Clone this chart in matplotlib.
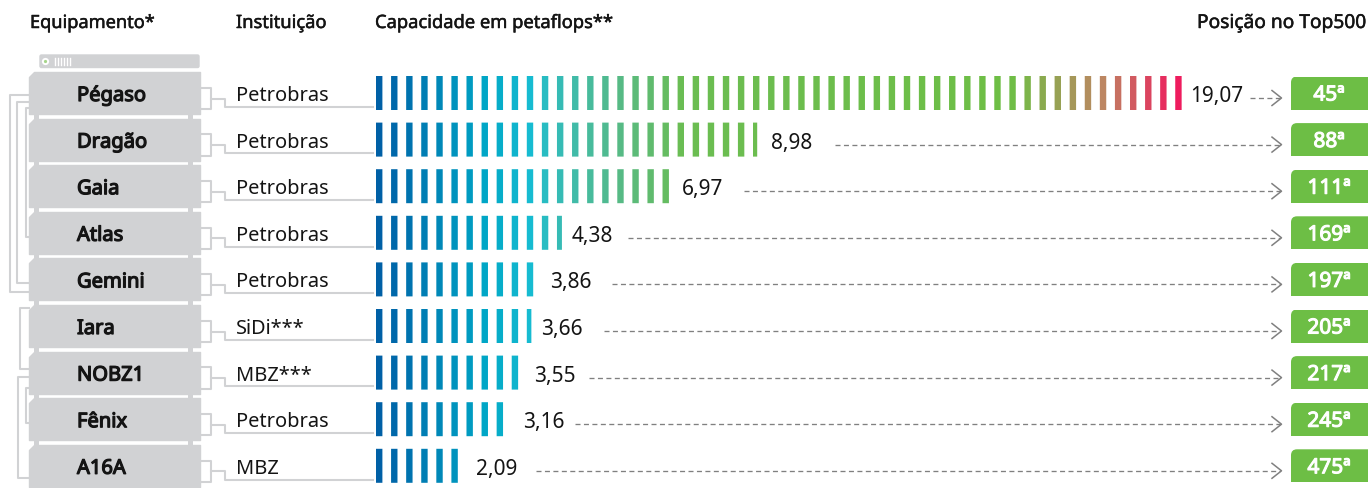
import matplotlib
matplotlib.use("Agg")
import matplotlib.pyplot as plt
from matplotlib.colors import LinearSegmentedColormap
from matplotlib.patches import Rectangle, Polygon, FancyBboxPatch
import matplotlib.patheffects as pe

plt.rcParams["font.family"] = ["Noto Sans", "DejaVu Sans"]

# DATA
equipamentos = ["Pégaso", "Dragão", "Gaia", "Atlas", "Gemini", "Iara", "NOBZ1", "Fênix", "A16A"]
instituicoes = ["Petrobras", "Petrobras", "Petrobras", "Petrobras", "Petrobras", "SiDi***", "MBZ***", "Petrobras", "MBZ"]
capacidade = [19.07, 8.98, 6.97, 4.38, 3.86, 3.66, 3.55, 3.16, 2.09]
capacidadeLabels = ["19,07", "8,98", "6,97", "4,38", "3,86", "3,66", "3,55", "3,16", "2,09"]
posicoes = ["45ª", "88ª", "111ª", "169ª", "197ª", "205ª", "217ª", "245ª", "475ª"]

# LAYOUT (pixels of the 1368x488 figure)
firstRow = 93
rowGap = 46.6
pxPerPeta = 42.45
barsLeft = 376
tickStep = 15.08
tickWidth = 6.4
labelX = [1190, 771, 682, 572, 550, 541, 534, 523, 476]
dashX = [1250, 835, 744, 628, 612, 604, 589, 575, 536]

gray = "#D1D2D4"
green = "#6DBE45"
ink = "#141414"
tickColors = LinearSegmentedColormap.from_list("ticks", [
    (0.0, "#0060A6"), (0.13, "#00A6C6"), (0.19, "#17BCD1"), (0.23, "#3CBBB0"), (0.30, "#56BA86"),
    (0.38, "#6BBD52"), (0.79, "#6EBE45"), (0.905, "#BC8762"), (1.0, "#EE1C5E")])

# Noto Sans has no heavier files here, so thicken it with a stroke of its own colour
def heavy(width, color):
    return [pe.withStroke(linewidth=width, foreground=color)]

fig = plt.figure(figsize=(13.68, 4.88), dpi=100)

# pixel axes for the furniture
ax = fig.add_axes([0, 0, 1, 1])
ax.set_xlim(0, 1368)
ax.set_ylim(488, 0)
ax.axis("off")

# data axes for the bars: x in petaflops, y in rows
barAx = fig.add_axes([0, 0, 1, 1])
barAx.set_xlim(-barsLeft / pxPerPeta, (1368 - barsLeft) / pxPerPeta)
barAx.set_ylim((488 - firstRow) / rowGap, -firstRow / rowGap)
barAx.axis("off")
barAx.patch.set_alpha(0)

# HEADERS
headers = [(30, "Equipamento*", "left", 13.1), (236, "Instituição", "left", 13.2),
           (375, "Capacidade em petaflops**", "left", 13.2), (1366, "Posição no Top500", "right", 13.8)]
for x, txt, align, size in headers:
    ax.text(x, 28, txt, fontsize=size, color=ink, ha=align, path_effects=heavy(0.35, ink))

# top unit of the rack
ax.add_patch(FancyBboxPatch((40, 55), 159, 12.5, boxstyle="round,pad=0,rounding_size=1.5", fc=gray, ec=gray, lw=1))
ax.add_patch(plt.Circle((45.5, 61.5), 3.6, fc="white", ec="none"))
ax.add_patch(plt.Circle((45.5, 61.5), 1.6, fc="#A6D58A", ec="none"))
for x in [54.5, 57.5, 60.5, 63.5, 66.5, 69.5]:
    ax.plot([x, x], [58, 65], color="white", lw=1)

# RACK SERVERS AND CONNECTORS
for i, nome in enumerate(equipamentos):
    y = firstRow + i * rowGap
    top = y - 21
    bottom = y + 21
    ax.add_patch(Polygon([(34, top), (199.5, top), (199.5, bottom), (29, bottom), (29, top + 5)],
                         closed=True, fc=gray, ec=gray, lw=1, joinstyle="round"))
    if i < len(equipamentos) - 1:
        ax.add_patch(Rectangle((34, bottom), 4.5, 5, fc=gray, ec="none"))
        ax.add_patch(Rectangle((188, bottom), 4.5, 5, fc=gray, ec="none"))
    ax.text(77, y + 8, nome, fontsize=14.5, color=ink, path_effects=heavy(0.9, ink))

    # bracket towards the institution
    ax.plot([199.5, 210.5, 210.5, 199.5], [y - 5.3, y - 5.3, y + 16, y + 16], color=gray, lw=1.5)
    ax.plot([210.5, 224.5, 224.5, 373], [y + 5.5, y + 5.5, y + 13.7, y + 13.7], color=gray, lw=1.5)
    ax.text(236, y + 8, instituicoes[i], fontsize=14.4, color=ink)

    # value label and dashed arrow
    ax.text(labelX[i], y + 9, capacidadeLabels[i], fontsize=15, color=ink)
    ax.plot([dashX[i], 1280], [y + 5, y + 5], color="#808080", lw=0.95, linestyle=(0, (3.8, 2.6)))
    ax.plot([1272, 1281.5, 1272], [y - 2.5, y + 5, y + 12.5], color="#808080", lw=1.1)

    # green rank badge, round on top and square below
    badge = FancyBboxPatch((1291, y - 16.5), 90, 50, boxstyle="round,pad=0,rounding_size=6", fc=green, ec="none")
    ax.add_patch(badge)
    badge.set_clip_path(Rectangle((1291, y - 16.5), 77, 33, transform=ax.transData))
    ax.text(1329, y + 7.5, posicoes[i], fontsize=15, color="white", ha="center", path_effects=heavy(0.8, "white"))

# LEFT LINKS BETWEEN SERVERS
links = [(9.5, 95, 292), (17, 102, 283), (25.5, 108, 237), (20, 308, 369), (18, 377, 478), (25.5, 388, 423)]
for x, y1, y2 in links:
    ax.plot([29, x, x, 29], [y1, y1, y2, y2], color=gray, lw=1.5)

# PETAFLOP BARS, one tick at a time and the last one cut at the value
step = tickStep / pxPerPeta
width = tickWidth / pxPerPeta
for i, valor in enumerate(capacidade):
    k = 0
    while k * step < valor:
        left = k * step
        bars = barAx.bar(left, 34 / rowGap, width=min(width, valor - left), bottom=i - 17 / rowGap,
                         align="edge", color=tickColors(k / 53))
        bars[0].set_snap(False)
        k += 1

plt.savefig("out.png", dpi=100)
